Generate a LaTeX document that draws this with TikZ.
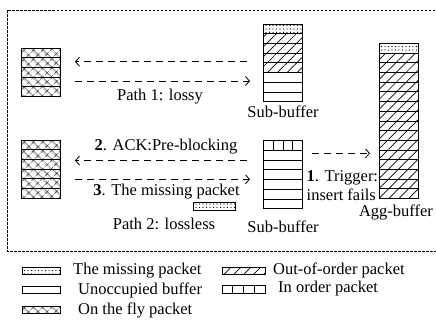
\documentclass[tikz,border=0pt]{standalone}
\usepackage{fontspec}
\setmainfont{Liberation Serif}
\usetikzlibrary{positioning,patterns.meta,arrows.meta,calc}

\begin{document}
\begin{tikzpicture}[x=1pt,y=-1pt,font=\fontsize{16.5}{19}\selectfont]
    \tikzset{cell/.style = {draw, line width=0.7pt, minimum width=39pt, minimum height=9.7pt, inner sep=0pt, outer sep=0pt}}
    \tikzset{swatch/.style = {cell, minimum width=38pt, minimum height=7pt}}
    \tikzset{miss/.style = {pattern={Dots[radius=0.55pt,distance=3.5pt]}}}
    \tikzset{ooo/.style = {pattern={Lines[angle=45,distance=7pt,line width=0.7pt]}}}
    \tikzset{free/.style = {}}
    \tikzset{fly/.style = {pattern={Hatch[angle=45,distance=6.5pt,line width=0.5pt]}}}
    \tikzset{inorder/.style = {path picture={\foreach \t in {1,2,3} \draw[line width=0.7pt] ($(path picture bounding box.south west)!\t/4!(path picture bounding box.south east)$) -- ($(path picture bounding box.north west)!\t/4!(path picture bounding box.north east)$);}}}
    \tikzset{flow/.style = {line width=0.8pt, dash pattern=on 7pt off 5pt, -{Straight Barb[length=4pt,width=9pt]}}}
    \tikzset{txt/.style = {inner sep=0pt}}
    \useasboundingbox (0,0) rectangle (436,330);
    \draw[line width=0.6pt, dash pattern=on 2.5pt off 1.5pt] (7,10) rectangle (438,251);

    \foreach \k [count=\i from 0] in {fly,fly,fly,fly,fly}
        \node[cell,\k] (hostA\i) at (41.3,{48+4.85+9.7*\i}) {};
    \foreach \k [count=\i from 0] in {fly,fly,fly,fly,fly,fly}
        \node[cell,\k] (hostB\i) at (41.3,{140+4.85+9.7*\i}) {};
    \foreach \k [count=\i from 0] in {miss,ooo,ooo,ooo,ooo,free,free,free}
        \node[cell,\k] (subA\i) at (283,{24+4.85+9.7*\i}) {};
    \foreach \k [count=\i from 0] in {inorder,free,free,free,free,free,free}
        \node[cell,\k] (subB\i) at (283,{140.7+4.85+9.7*\i}) {};
    \foreach \k [count=\i from 0] in {miss,ooo,ooo,ooo,ooo,ooo,ooo,ooo,ooo,ooo,ooo,ooo,ooo,ooo,ooo,ooo}
        \node[cell,\k] (agg\i) at (399,{43.3+4.85+9.7*\i}) {};

    \node[txt, below=4pt of subA7] (subAlab) {Sub-buffer};
    \node[txt, below=12pt of subB6] (subBlab) {Sub-buffer};
    \node[txt, below=6pt of agg15, xshift=-3pt] (agglab) {Agg-buffer};

    \coordinate (a1s) at (247,61.7);
    \coordinate (a1e) at (75,61.7);
    \coordinate (a2s) at (75,81);
    \coordinate (a2e) at (250,81);
    \coordinate (b1s) at (247,160.5);
    \coordinate (b1e) at (75,160.5);
    \coordinate (b2s) at (75,179.3);
    \coordinate (b2e) at (250,179.3);
    \coordinate (t1s) at (311.7,153.3);
    \coordinate (t1e) at (370,153.3);
    \draw[flow] (a1s) -- (a1e);
    \draw[flow] (a2s) -- (a2e);
    \draw[flow] (b1s) -- (b1e);
    \draw[flow] (b2s) -- (b2e);
    \draw[flow] (t1s) -- (t1e);

    \node[txt] (path1) at (160,97) {Path 1: lossy};
    \node[txt] (ack) at (166,147) {\textbf{2}. ACK:Pre-blocking};
    \node[txt] (resend) at (166.5,192) {\textbf{3}. The missing packet};
    \node[cell,miss,minimum width=42pt,minimum height=8pt] (lost) at (214,206.5) {};
    \node[txt] (path2) at (164,224) {Path 2: lossless};
    \node[txt, anchor=west, align=left] (trig) at (306.5,186) {\textbf{1}. Trigger:\\insert fails};

    \node[swatch,miss] (lg1) at (41,270.5) {};
    \node[txt, right=13pt of lg1] (lgt1) {The missing packet};
    \node[swatch,ooo,minimum width=43pt] (lg2) at (243.5,270.5) {};
    \node[txt, right=8pt of lg2] (lgt2) {Out-of-order packet};
    \node[swatch,free] (lg3) at (41,290) {};
    \node[txt, right=18pt of lg3] (lgt3) {Unoccupied buffer};
    \node[swatch,inorder,minimum width=43pt,minimum height=8pt] (lg4) at (243.5,289) {};
    \node[txt, right=13pt of lg4] (lgt4) {In order packet};
    \node[swatch,fly] (lg5) at (41,310) {};
    \node[txt, right=18pt of lg5] (lgt5) {On the fly packet};
\end{tikzpicture}
\end{document}
